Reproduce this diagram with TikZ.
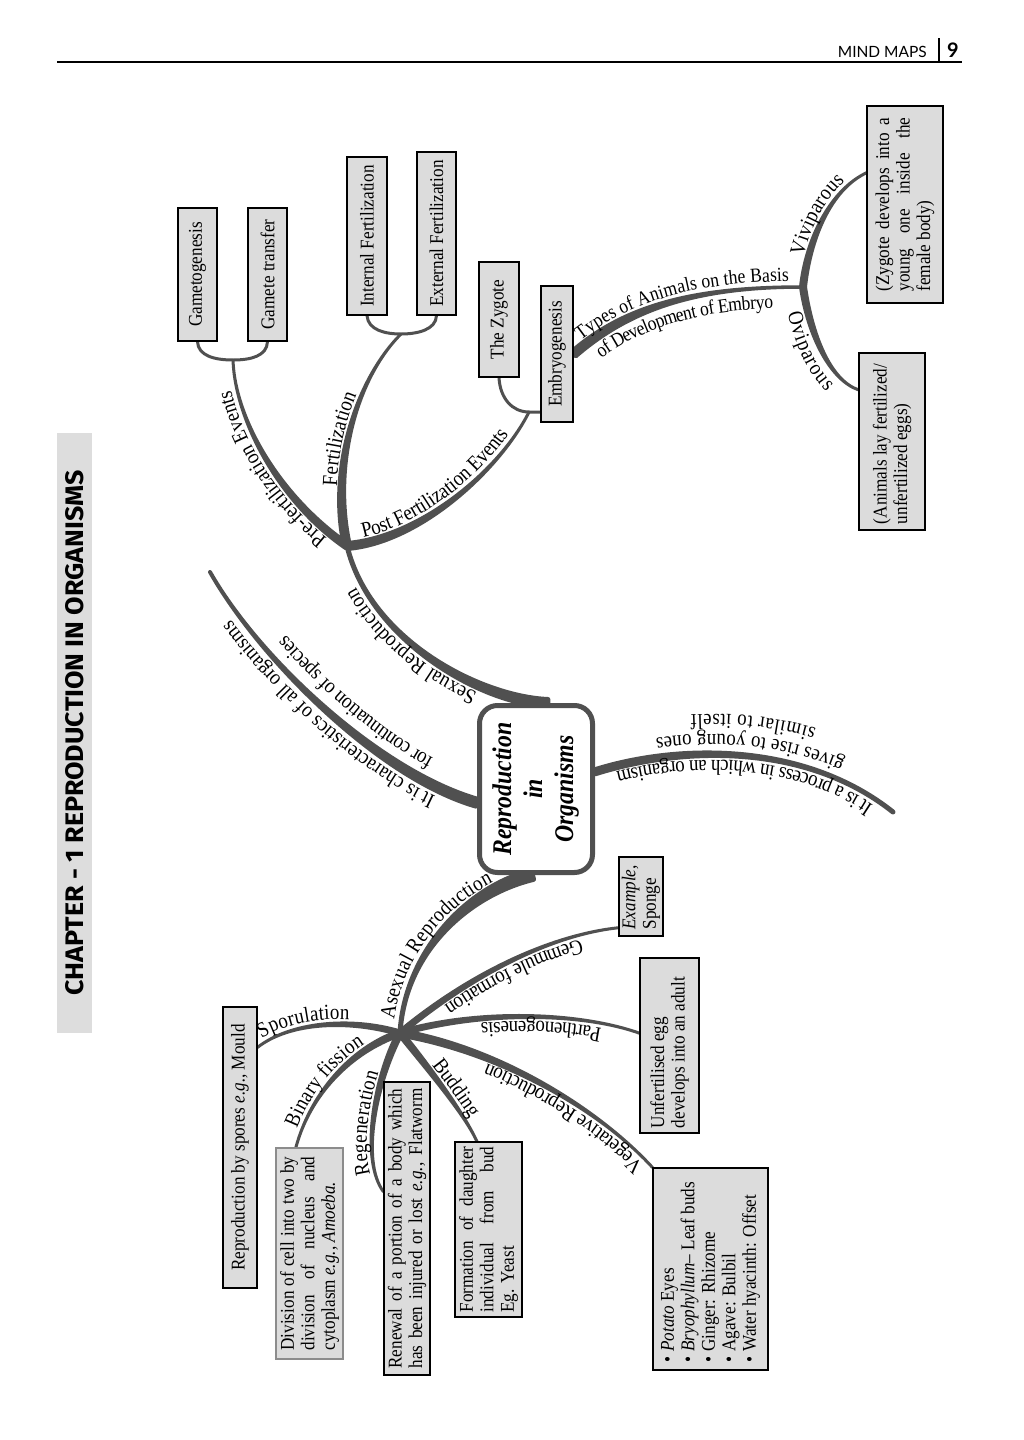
\documentclass[tikz,border=0pt]{standalone}
\usepackage{fontspec}
\setmainfont{Liberation Serif}[FakeStretch=0.88]
\newfontfamily\hdrfont{Lato}
\newfontfamily\chapfont{Fira Sans}
\usetikzlibrary{calc,decorations.text,backgrounds}
\definecolor{brc}{HTML}{505050}
\definecolor{boxg}{HTML}{DCDCDC}
\definecolor{bandg}{HTML}{DDDDDD}
\definecolor{divb}{HTML}{8C8C8C}
\newcommand\bxf{\fontsize{19.5}{20.5}\selectfont}
\newcommand\jline[2]{\makebox[#1][s]{#2}}
\newcommand\tbranch[6]{\filldraw[brc, line width=#6, line join=round] ($(#1)!#5!90:(#2)$) .. controls ($(#2)!#5!-90:(#1)$) and (#3) .. (#4) .. controls (#3) and ($(#2)!#5!90:(#1)$) .. ($(#1)!#5!-90:(#2)$) -- cycle;}
\tikzset{
  bx/.style={draw=black, line width=1.1pt, fill=boxg, inner sep=0pt, rectangle, font=\bxf},
  lbl/.style n args={4}{decoration={text along path, text={|\fontsize{#4}{24}\selectfont|#1}, raise=#2, text align={#3}}, decorate},
  fork/.style={draw=brc, line width=3pt, line cap=round}
}
\begin{document}
\begin{tikzpicture}[x=1pt,y=-1pt]
\useasboundingbox (0,0) rectangle (1024,1440);
% header
\draw[line width=1.3pt] (57,62) -- (962,62);
\draw[line width=2.5pt] (939,38) -- (939,62);
\node[font=\hdrfont\fontsize{15.5}{16}\selectfont, anchor=base east, inner sep=0] (mm) at (927,57) {MIND MAPS};
\node[font=\hdrfont\bfseries\fontsize{20}{20}\selectfont, anchor=base west, inner sep=0] (pg) at (947,57) {9};
% chapter band
\node[fill=bandg, minimum width=35pt, minimum height=600pt, inner sep=0pt] (band) at (74.5,733) {\rotatebox{90}{\resizebox{525pt}{18pt}{\chapfont\bfseries CHAPTER - 1 REPRODUCTION IN ORGANISMS}}};

% boxes
\node[bx, minimum width=39pt, minimum height=133pt] (gam) at (197.5,274.5) {\rotatebox{90}{Gametogenesis}};
\node[bx, minimum width=39pt, minimum height=133pt] (gtr) at (267.5,274.5) {\rotatebox{90}{Gamete transfer}};
\node[bx, minimum width=40pt, minimum height=158pt] (intf) at (367,236) {\rotatebox{90}{Internal Fertilization}};
\node[bx, minimum width=39pt, minimum height=163pt] (extf) at (436.5,233.5) {\rotatebox{90}{External Fertilization}};
\node[bx, minimum width=40pt, minimum height=115pt] (zyg) at (499,319.5) {\rotatebox{90}{The Zygote}};
\node[bx, minimum width=32pt, minimum height=136pt] (emb) at (557,354) {\rotatebox{90}{Embryogenesis}};
\node[bx, minimum width=76pt, minimum height=197pt] (viv) at (905,204.5) {\rotatebox{90}{\parbox{174pt}{\jline{174pt}{(Zygote develops into a}\\\jline{174pt}{young one inside the}\\female body)}}};
\node[bx, minimum width=66pt, minimum height=177pt] (ovi) at (892,441.5) {\rotatebox{90}{\parbox{165pt}{\raggedright (Animals lay fertilized/\\unfertilized eggs)}}};
\node[bx, minimum width=44pt, minimum height=79pt] (exa) at (641,896.5) {\rotatebox{90}{\parbox{66pt}{\raggedright\textit{Example,}\\Sponge}}};
\node[bx, minimum width=59pt, minimum height=175pt] (unf) at (669.5,1045.5) {\rotatebox{90}{\parbox{165pt}{\raggedright Unfertilised egg\\develops into an adult}}};
\node[bx, minimum width=34pt, minimum height=281pt] (spo) at (240,1147.5) {\rotatebox{90}{Reproduction by spores \textit{e.g.,} Mould}};
\node[bx, draw=divb, minimum width=67pt, minimum height=211pt] (div) at (309.5,1253.5) {\rotatebox{90}{\parbox{194pt}{\jline{194pt}{Division of cell into two by}\\\jline{194pt}{division of nucleus and}\\cytoplasm \textit{e.g., Amoeba.}}}};
\node[bx, minimum width=46pt, minimum height=293pt] (ren) at (407,1228.5) {\rotatebox{90}{\parbox{280pt}{\jline{280pt}{Renewal of a portion of a body which}\\\jline{280pt}{has been injured or lost \textit{e.g.,} Flatworm}}}};
\node[bx, minimum width=67pt, minimum height=175pt] (frm) at (488.5,1229.5) {\rotatebox{90}{\parbox{166pt}{\jline{166pt}{Formation of daughter}\\\jline{166pt}{individual from bud}\\Eg. Yeast}}};
\node[bx, minimum width=115pt, minimum height=202pt] (veg) at (710.5,1269) {\rotatebox{90}{\parbox{186pt}{\raggedright •\ \textit{Potato} Eyes\\•\ \textit{Bryophyllum}– Leaf buds\\•\ Ginger: Rhizome\\•\ Agave: Bulbil\\•\ Water hyacinth: Offset}}};

% centre
\node[draw=brc, line width=5pt, rounded corners=18pt, fill=white, minimum width=113pt, minimum height=167pt, inner sep=0pt, font=\fontsize{27}{31}\selectfont\bfseries\itshape] (ctr) at (536,789) {\rotatebox{90}{\begin{tabular}{@{}c@{}}Reproduction\\in\\Organisms\end{tabular}}};

% attachment points
\coordinate (H1) at (347,546);
\coordinate (H2) at (803,287);
\coordinate (H3) at (400,1033);
\coordinate (F1) at (233,360);
\coordinate (F2) at (401,334);
\coordinate (F3) at (529,412);
\coordinate (chE) at (210,572);
\coordinate (prE) at (893,812);
\coordinate (ctrT) at ($(ctr.north west)!0.6!(ctr.north east)$);
\coordinate (ctrL) at ($(ctr.north west)!0.58!(ctr.south west)$);
\coordinate (ctrR) at ($(ctr.north east)!0.40!(ctr.south east)$);
\coordinate (ctrB) at ($(ctr.south west)!0.47!(ctr.south east)$);
\coordinate (vivL) at ($(viv.north west)!0.34!(viv.south west)$);
\coordinate (oviL) at ($(ovi.north west)!0.21!(ovi.south west)$);
\coordinate (spoR) at ($(spo.north east)!0.145!(spo.south east)$);
\coordinate (divT) at ($(div.north west)!0.3!(div.north east)$);
\coordinate (renL) at ($(ren.north west)!0.375!(ren.south west)$);
\coordinate (frmT) at ($(frm.north west)!0.33!(frm.north east)$);
\coordinate (unfL) at ($(unf.north west)!0.43!(unf.south west)$);
\coordinate (exaL) at ($(exa.north west)!0.89!(exa.south west)$);

\begin{pgfonlayer}{background}
\fill[white] (0,0) rectangle (1024,1440);
\tbranch{ctrT}{480,700}{370,640}{H1}{3.5pt}{5pt}
\tbranch{ctrL}{380,775}{260,660}{chE}{4pt}{4pt}
\tbranch{ctrR}{680,745}{805,742}{prE}{2pt}{5pt}
\tbranch{ctrB}{470,890}{405,950}{H3}{4.5pt}{5pt}
\tbranch{H1}{280,500}{235,420}{F1}{3pt}{3pt}
\tbranch{H1}{330,470}{355,380}{F2}{3.5pt}{3pt}
\tbranch{H1}{420,540}{500,470}{F3}{3.5pt}{3pt}
\tbranch{emb.east}{630,305}{700,287}{H2}{3.5pt}{3.5pt}
\tbranch{H2}{808,240}{830,190}{vivL}{2.5pt}{3pt}
\tbranch{H2}{810,335}{830,380}{oviL}{2.5pt}{3pt}
\tbranch{H3}{350,1018}{290,1022}{spoR}{2pt}{3pt}
\tbranch{H3}{350,1050}{310,1095}{divT}{2.5pt}{3pt}
\tbranch{H3}{375,1080}{360,1160}{renL}{2.5pt}{3pt}
\tbranch{H3}{430,1070}{465,1115}{frmT}{2.5pt}{3pt}
\tbranch{H3}{500,1050}{600,1110}{veg.north west}{3pt}{3pt}
\tbranch{H3}{480,1010}{580,1012}{unfL}{2pt}{3pt}
\tbranch{H3}{470,975}{550,935}{exaL}{2pt}{3pt}
\draw[fork] (gam.south) .. controls (198,356) and (215,360) .. (F1) .. controls (251,360) and (267,356) .. (gtr.south);
\draw[fork] (intf.south) .. controls (368,330) and (385,334) .. (F2) .. controls (417,334) and (436,330) .. (extf.south);
\draw[fork] (zyg.south) .. controls (500,398) and (512,412) .. (F3) -- (emb.west |- F3);
\end{pgfonlayer}

% labels
\path[lbl={Sexual Reproduction}{7pt}{left, left indent=70pt}{21.5}] (ctrT) .. controls (480,700) and (370,640) .. (H1);
\path[lbl={It is characteristics of all organisms}{9pt}{left, left indent=40pt}{21.5}] (ctrL) .. controls (380,775) and (260,660) .. (chE);
\path[lbl={for continuation of species}{-24pt}{left, left indent=60pt}{21.5}] (ctrL) .. controls (380,775) and (260,660) .. (chE);
\path[lbl={It is a process in which an organism}{6pt}{center}{21.5}] (prE) .. controls (805,742) and (680,745) .. (ctrR);
\path[lbl={gives rise to young ones}{-20pt}{center}{21.5}] (prE) .. controls (805,742) and (680,745) .. (ctrR);
\path[lbl={similar to itself}{-40pt}{center}{21.5}] (prE) .. controls (805,742) and (680,745) .. (ctrR);
\path[lbl={Asexual Reproduction}{7pt}{left, left indent=12pt}{21.5}] (H3) .. controls (405,950) and (470,890) .. (ctrB);
\path[lbl={Sporulation}{5pt}{left, left indent=8pt}{21.5}] (spoR) .. controls (290,1022) and (350,1018) .. (H3);
\path[lbl={Binary fission}{5pt}{left, left indent=18pt}{21.5}] (divT) .. controls (310,1095) and (350,1050) .. (H3);
\path[lbl={Regeneration}{5pt}{left, left indent=20pt}{21.5}] (renL) .. controls (360,1160) and (375,1080) .. (H3);
\path[lbl={Budding}{5pt}{left, left indent=45pt}{21.5}] (H3) .. controls (430,1070) and (465,1115) .. (frmT);
\path[lbl={Vegetative Reproduction}{5pt}{left, left indent=8pt}{21.5}] (veg.north west) .. controls (600,1110) and (500,1050) .. (H3);
\path[lbl={Parthenogenesis}{5pt}{left, left indent=38pt}{21.5}] (unfL) .. controls (580,1012) and (480,1010) .. (H3);
\path[lbl={Gemmule formation}{5pt}{left, left indent=40pt}{21.5}] (exaL) .. controls (550,935) and (470,975) .. (H3);
\path[lbl={Pre-fertilization Events}{6pt}{left, left indent=20pt}{21.5}] (H1) .. controls (280,500) and (235,420) .. (F1);
\path[lbl={Fertilization}{5pt}{left, left indent=60pt}{21.5}] (H1) .. controls (330,470) and (355,380) .. (F2);
\path[lbl={Post Fertilization Events}{6pt}{left, left indent=18pt}{21.5}] (H1) .. controls (420,540) and (500,470) .. (F3);
\path[lbl={Types of Animals on the Basis}{6pt}{left, left indent=14pt}{20}] (emb.east) .. controls (630,305) and (700,287) .. (H2);
\path[lbl={of Development of Embryo}{-21pt}{left, left indent=20pt}{20}] (emb.east) .. controls (630,305) and (700,287) .. (H2);
\path[lbl={Viviparous}{5pt}{left, left indent=30pt}{21.5}] (H2) .. controls (808,240) and (830,190) .. (vivL);
\path[lbl={Oviparous}{-20pt}{left, left indent=22pt}{21.5}] (H2) .. controls (810,335) and (830,380) .. (oviL);
\end{tikzpicture}
\end{document}
